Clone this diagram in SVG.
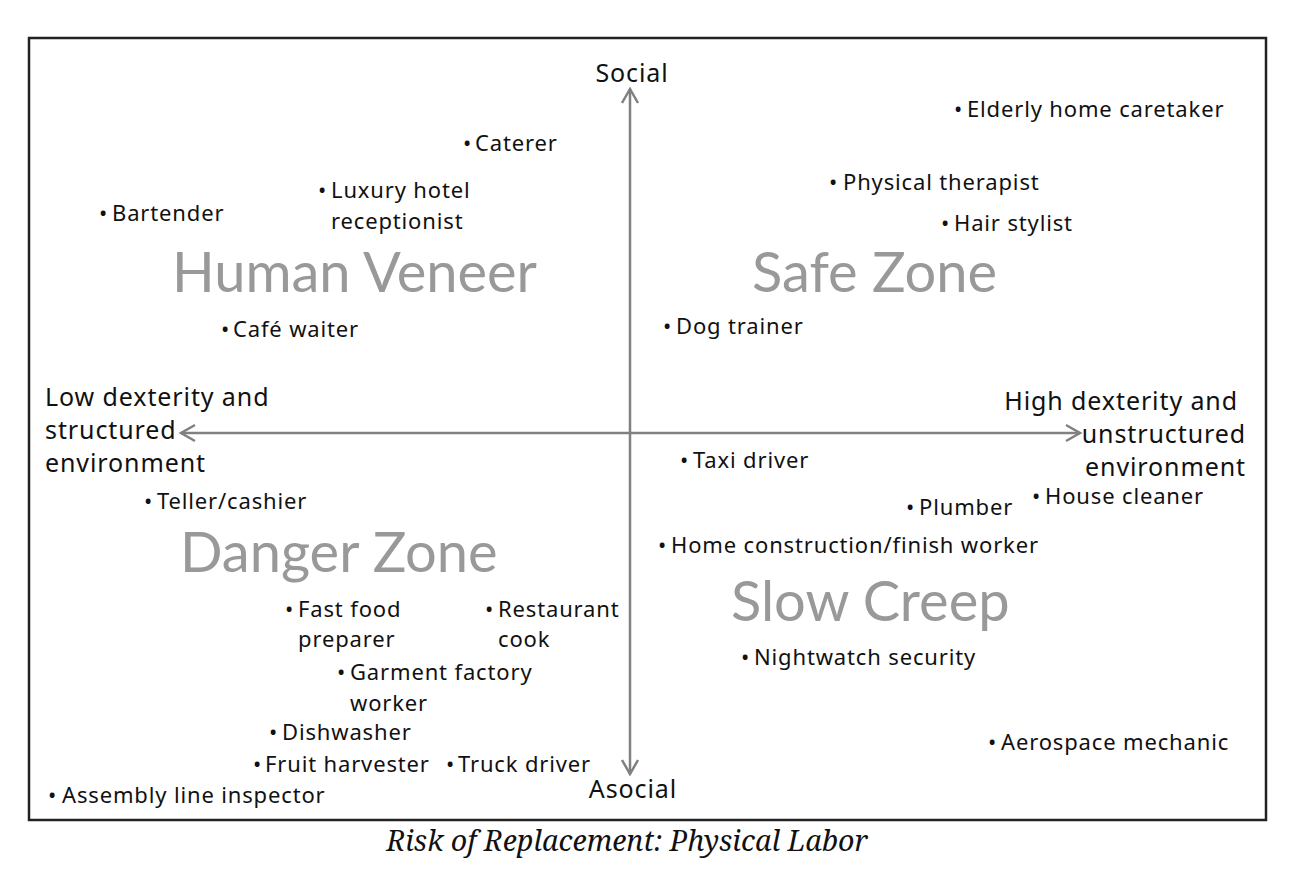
<svg xmlns="http://www.w3.org/2000/svg" width="1296" height="884" viewBox="0 0 1296 884">
<style>
.t{font-family:"Noto Sans","Open Sans",sans-serif;font-size:22px;letter-spacing:0.85px;fill:#111}
.a{font-family:"Noto Sans","Open Sans",sans-serif;font-size:25px;letter-spacing:0.9px;fill:#111}
.z{font-family:Lato,"Noto Sans",sans-serif;font-size:56px;fill:#999}
.ax{stroke:#808080;stroke-width:2.5;fill:none}
.cap{font-family:"Noto Serif","DejaVu Serif","Liberation Serif",serif;font-style:italic;font-size:28.6px;fill:#111}
</style>
<defs>
<marker id="ah" viewBox="0 0 20 20" refX="17" refY="10" markerWidth="20" markerHeight="20" markerUnits="userSpaceOnUse" orient="auto">
<path d="M3,2 L17,10 L3,18" fill="none" stroke="#808080" stroke-width="2.5"/>
</marker>
</defs>
<rect x="0" y="0" width="1296" height="884" fill="#fff"/>
<rect x="29" y="38" width="1237" height="782" fill="#fff" stroke="#222" stroke-width="2.5"/>
<g id="connectors">
<line class="ax" x1="630" y1="433" x2="630" y2="89" marker-end="url(#ah)"/>
<line class="ax" x1="630" y1="433" x2="630" y2="774" marker-end="url(#ah)"/>
<line class="ax" x1="630" y1="433" x2="181" y2="433" marker-end="url(#ah)"/>
<line class="ax" x1="630" y1="433" x2="1080" y2="433" marker-end="url(#ah)"/>
</g>
<g id="axis-labels">
<text class="a" x="632" y="82" text-anchor="middle">Social</text>
<text class="a" x="633" y="798" text-anchor="middle">Asocial</text>
<text class="a" x="45" y="406">Low dexterity and<tspan x="45" y="439">structured</tspan><tspan x="45" y="472">environment</tspan></text>
<text class="a" x="1238" y="410" text-anchor="end">High dexterity and</text>
<text class="a" x="1246" y="443" text-anchor="end">unstructured</text>
<text class="a" x="1246" y="476" text-anchor="end">environment</text>
</g>
<g id="zones">
<text id="human-veneer" class="z" x="172" y="292">Human Veneer</text>
<text id="safe-zone" class="z" x="752" y="292">Safe Zone</text>
<text id="danger-zone" class="z" x="180" y="572">Danger Zone</text>
<text id="slow-creep" class="z" x="731" y="621">Slow Creep</text>
</g>
<g id="elderly"><text class="t" x="954" y="117">•<tspan x="967">Elderly home caretaker</tspan></text></g>
<g id="caterer"><text class="t" x="463" y="151">•<tspan x="475">Caterer</tspan></text></g>
<g id="physical-therapist"><text class="t" x="829" y="190">•<tspan x="843">Physical therapist</tspan></text></g>
<g id="luxury"><text class="t" x="318" y="198">•<tspan x="331">Luxury hotel</tspan><tspan x="331" y="229">receptionist</tspan></text></g>
<g id="bartender"><text class="t" x="99" y="221">•<tspan x="112">Bartender</tspan></text></g>
<g id="hair-stylist"><text class="t" x="941" y="231">•<tspan x="954">Hair stylist</tspan></text></g>
<g id="dog-trainer"><text class="t" x="663" y="334">•<tspan x="676">Dog trainer</tspan></text></g>
<g id="cafe-waiter"><text class="t" x="221" y="337">•<tspan x="233">Café waiter</tspan></text></g>
<g id="taxi-driver"><text class="t" x="680" y="468">•<tspan x="693">Taxi driver</tspan></text></g>
<g id="teller"><text class="t" x="144" y="509">•<tspan x="157">Teller/cashier</tspan></text></g>
<g id="house-cleaner"><text class="t" x="1032" y="504">•<tspan x="1045">House cleaner</tspan></text></g>
<g id="plumber"><text class="t" x="906" y="515">•<tspan x="919">Plumber</tspan></text></g>
<g id="home-construction"><text class="t" x="658" y="553">•<tspan x="671">Home construction/finish worker</tspan></text></g>
<g id="fast-food"><text class="t" x="285" y="617">•<tspan x="298">Fast food</tspan><tspan x="298" y="647">preparer</tspan></text></g>
<g id="restaurant-cook"><text class="t" x="485" y="617">•<tspan x="498">Restaurant</tspan><tspan x="498" y="647">cook</tspan></text></g>
<g id="garment"><text class="t" x="337" y="680">•<tspan x="350">Garment factory</tspan><tspan x="350" y="711">worker</tspan></text></g>
<g id="nightwatch"><text class="t" x="741" y="665">•<tspan x="754">Nightwatch security</tspan></text></g>
<g id="dishwasher"><text class="t" x="269" y="740">•<tspan x="282">Dishwasher</tspan></text></g>
<g id="aerospace"><text class="t" x="988" y="750">•<tspan x="1001">Aerospace mechanic</tspan></text></g>
<g id="fruit"><text class="t" x="253" y="772">•<tspan x="265">Fruit harvester</tspan></text></g>
<g id="truck"><text class="t" x="446" y="772">•<tspan x="458">Truck driver</tspan></text></g>
<g id="assembly"><text class="t" x="48" y="803">•<tspan x="62">Assembly line inspector</tspan></text></g>
<text class="cap" x="627" y="851" text-anchor="middle">Risk of Replacement: Physical Labor</text>
</svg>
